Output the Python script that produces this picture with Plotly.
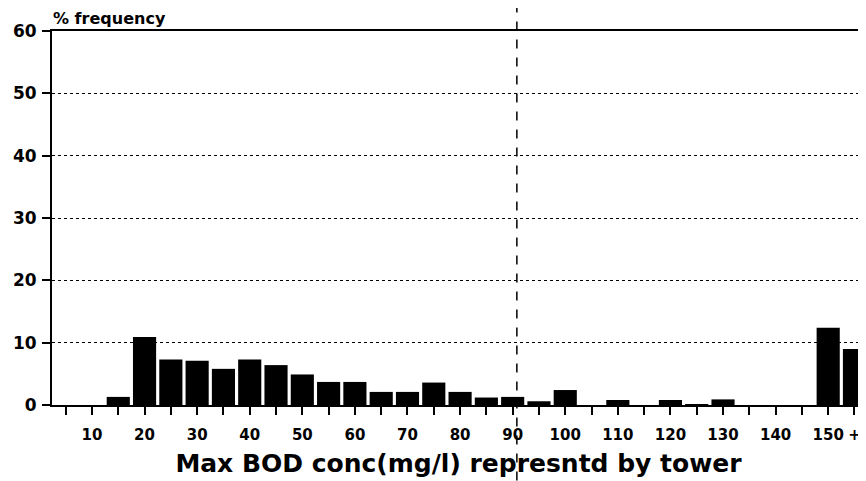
import plotly.graph_objects as go

# Bin centres (mg/l), every 5 units; last bin is the open-ended "150+" class
bins = [5, 10, 15, 20, 25, 30, 35, 40, 45, 50, 55, 60, 65, 70, 75, 80, 85, 90,
        95, 100, 105, 110, 115, 120, 125, 130, 135, 140, 145, 150, 155]
freq = [0, 0, 1.3, 10.9, 7.3, 7.1, 5.8, 7.3, 6.4, 4.9, 3.7, 3.7, 2.1, 2.1, 3.6,
        2.1, 1.2, 1.3, 0.6, 2.4, 0, 0.8, 0, 0.8, 0.1, 0.9, 0, 0, 0, 12.4, 9.0]

x_tickvals = bins
x_ticktext = ["", "10", "", "20", "", "30", "", "40", "", "50", "", "60", "", "70",
              "", "80", "", "90", "", "100", "", "110", "", "120", "", "130", "",
              "140", "", "150", "+"]
y_tickvals = [0, 10, 20, 30, 40, 50, 60]
y_ticktext = ["0", "10", "20", "30", "40", "50", "60"]

x_title = "Max BOD conc(mg/l) represntd by tower"
y_title = "% frequency"
marker_x = 90.8  # dashed vertical rule across the sheet

FONT = "DejaVu Sans"

fig = go.Figure(go.Bar(
    x=bins, y=freq, width=4.4,
    marker=dict(color="black", line=dict(width=0)),
))

fig.update_layout(
    width=866, height=481,
    margin=dict(l=44, r=9, t=23, b=84),
    paper_bgcolor="white", plot_bgcolor="white",
    showlegend=False,
    font=dict(family=FONT, color="black"),
    xaxis=dict(
        range=[2.4, 157.0], automargin=False,
        tickmode="array", tickvals=x_tickvals, ticktext=x_ticktext,
        ticks="outside", ticklen=8, tickwidth=2, tickcolor="black",
        ticklabelstandoff=7,
        tickfont=dict(family=FONT, size=15, weight="bold", color="black"),
        showline=True, linecolor="black", linewidth=2, mirror=True,
        showgrid=False, zeroline=False,
        title=dict(text=x_title, standoff=11,
                   font=dict(family=FONT, size=25, weight="bold", color="black")),
    ),
    yaxis=dict(
        range=[0, 60], automargin=False,
        tickmode="array", tickvals=y_tickvals, ticktext=y_ticktext,
        ticks="outside", ticklen=8, tickwidth=2, tickcolor="black",
        ticklabelstandoff=2,
        tickfont=dict(family=FONT, size=17, weight="bold", color="black"),
        showline=True, linecolor="black", linewidth=2, mirror=True,
        showgrid=True, gridcolor="black", gridwidth=1, griddash="dot",
        zeroline=False,
    ),
    annotations=[dict(
        text=y_title, xref="paper", yref="paper", x=0, y=1.061,
        xanchor="left", yanchor="top", showarrow=False, borderpad=0,
        font=dict(family=FONT, size=16, weight="bold", color="black"),
    )],
    shapes=[dict(
        type="line", xref="x", yref="paper", x0=marker_x, x1=marker_x,
        y0=-0.25, y1=1.09, line=dict(color="black", width=1.5, dash="dash"),
    )],
)

fig.write_html("out.html")
